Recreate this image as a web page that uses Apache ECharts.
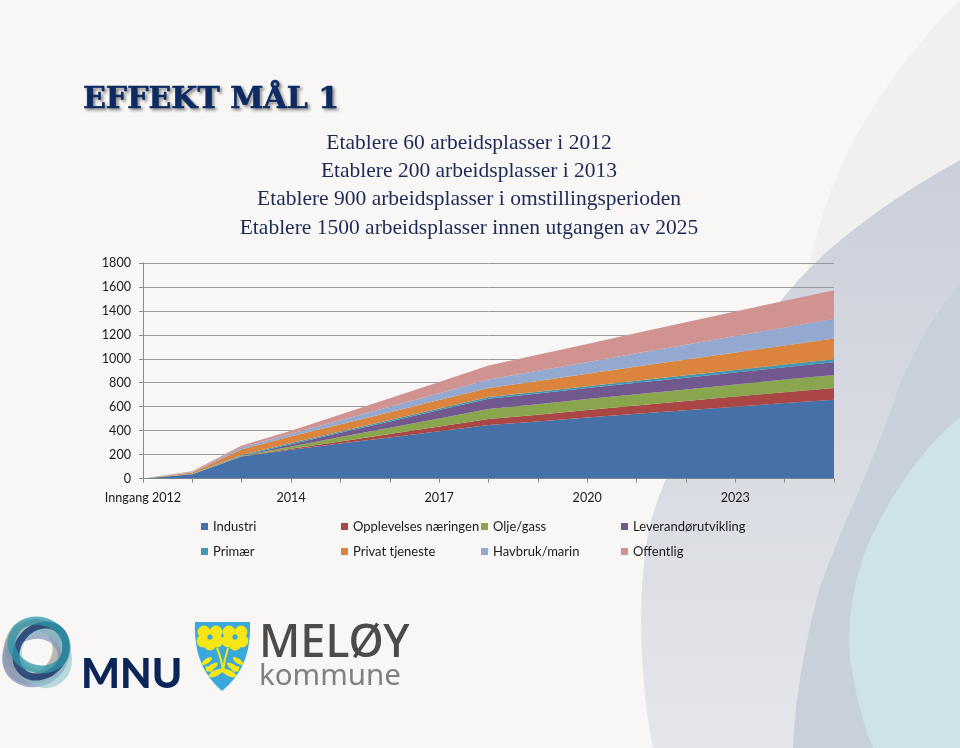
<!DOCTYPE html>
<html><head><meta charset="utf-8">
<style>html,body{margin:0;padding:0;background:#f8f7f6}#c{width:960px;height:748px}</style>
<script src="https://cdn.jsdelivr.net/npm/echarts@6/dist/echarts.min.js"></script>
</head><body><div id="c"></div>
<script>
const categories = ['Inngang 2012','2012','2013','2014','2015','2016','2017','2018','2019','2020','2021','2022','2023','2024','2025'];
const industri = [0,35,184,240,292,343,395,446,476,510,540,570,600,630,658];
const opplevelses = [0,0,1,8,18,29,40,51,57,63,70,77,84,91,98];
const oljeGass = [0,2,5,20,36,52,67,83,87,90,94,97,101,105,109];
const leverandor = [0,0,2,19,36,53,70,87,90,92,95,98,100,103,106];
const primaer = [0,2,6,9,10,11,12,13,15,16,18,20,22,23,25];
const privat = [0,12,47,56,61,66,71,76,90,104,118,132,145,159,173];
const havbruk = [0,3,17,22,34,46,58,70,84,97,111,124,138,151,165];
const offentlig = [0,6,14,25,48,71,94,117,135,152,170,187,204,222,239];
const seriesNames = ['Industri','Opplevelses næringen','Olje/gass','Leverandørutvikling','Primær','Privat tjeneste','Havbruk/marin','Offentlig'];
const seriesValues = [industri,opplevelses,oljeGass,leverandor,primaer,privat,havbruk,offentlig];
const colors = ['#4571a8','#aa4643','#89a54e','#71588f','#4198af','#db843d','#93a9cf','#d19392'];
const titleText = 'EFFEKT MÅL 1';
const subtitleLines = ['Etablere 60 arbeidsplasser i 2012','Etablere 200 arbeidsplasser i 2013','Etablere 900 arbeidsplasser i omstillingsperioden','Etablere 1500 arbeidsplasser innen utgangen av 2025'];

const legendX = [201,341,481,621], legendY = [520,545];
const legends = seriesNames.map((n,i)=>({
  show:true, data:[n], left:legendX[i%4], top:legendY[Math.floor(i/4)], padding:0,
  itemWidth:7, itemHeight:7, icon:'rect', selectedMode:false,
  textStyle:{fontFamily:'Lato',fontSize:13,color:'#1a1a1a'}
}));

let shapeId = 0;
const pathShape = d => { const name='deco'+(shapeId++); echarts.graphic.registerShape(name, echarts.graphic.extendPath(d,{}) ); return name; };
const subY = [143,171,199,228];
const bg = (d,fill)=>({type:pathShape(d),z:-10,silent:true,style:{fill}});
const ring = (rx,ry,rot,stroke,op,w,cx,cy)=>({type:'ellipse',z:5,silent:true,x:cx||37,y:cy||652,rotation:rot*Math.PI/180,
  shape:{cx:0,cy:0,rx,ry},style:{fill:'transparent',stroke,lineWidth:w,opacity:op}});
const leaf = (x,y,rx,ry,rot,fill)=>({type:'ellipse',z:5,silent:true,x,y,rotation:rot*Math.PI/180,shape:{cx:0,cy:0,rx,ry},style:{fill}});
const flower=(cx,cy)=>{
  const out=[];
  [[-6,-5],[6,-5],[-7,4],[7,4],[0,7]].forEach(p=>out.push({type:'circle',z:5,silent:true,shape:{cx:cx+p[0],cy:cy+p[1],r:6.4},style:{fill:'#f6e614'}}));
  out.push({type:'circle',z:5,silent:true,shape:{cx,cy,r:2.6},style:{fill:'#3aa8dc'}});
  return out;
};
const graphicEls = [
  bg('M960 0 C905 55 850 130 826 205 C818 230 812 250 808 270 L960 270 Z','#f1f0ee'),
  {type:pathShape('M960 160 C880 205 820 250 780 302 C720 375 670 450 650 525 C636 590 640 680 653 748 L960 748 Z'),z:-9,silent:true,
    style:{fill:{type:'linear',x:0,y:0,x2:0,y2:1,colorStops:[{offset:0,color:'#cbcfd9'},{offset:.5,color:'#d9dbe3'},{offset:1,color:'#e4e6ea'}]}}},
  {...bg('M960 283 C930 320 905 365 893 404 C870 470 840 530 820 587 C805 640 795 700 793 748 L960 748 Z','#c8d1da'),z:-8},
  {...bg('M960 417 C925 445 890 495 867 547 C850 590 846 640 852 670 C857 700 865 730 873 748 L960 748 Z','#cde3e7'),z:-7},
  {type:'text',z:6,silent:true,x:83,y:85,style:{text:titleText,font:'bold 30px "DejaVu Serif"',fill:'#0d2a63',stroke:'#0d2a63',lineWidth:0.6,textShadowBlur:3,textShadowColor:'rgba(40,40,40,.5)',textShadowOffsetX:2,textShadowOffsetY:2}},
  ...subtitleLines.map((t,i)=>({type:'text',z:6,silent:true,x:469,y:subY[i],style:{text:t,font:'21.5px "Liberation Serif"',fill:'#1c2a55',textAlign:'center',textVerticalAlign:'middle'}})),
  // MNU logo
  ring(28,24,-30,'#b9b6ad',.7,11,37,650),
  ring(28,24,60,'#8f8d85',.6,11,33,652),
  ring(28,24,15,'#8093b6',.7,10,35,658),
  ring(28,24,-60,'#8cc5cf',.6,10,42,656),
  ring(28,23,50,'#1f3b70',.85,7,41,651),
  ring(28,24,-20,'#2d97a8',.75,8,39,645),
  {type:'text',z:6,silent:true,x:81,y:654,style:{text:'MNU',font:'900 41px "Lato"',fill:'#0b2559'}},
  // Shield
  {type:pathShape('M195 622 L250 622 C251 650 244 673 222 691 C201 673 194 650 195 622 Z'),z:5,silent:true,style:{fill:'#3aa8dc'}},
  ...flower(210,637),...flower(235,637),
  {type:pathShape('M217 648 Q222 660 223 672 M228 648 Q224 660 223 672'),z:5,silent:true,style:{fill:'none',stroke:'#f6e614',lineWidth:2}},
  leaf(212,667,7,2.6,35,'#f6e614'),leaf(207,661,6,2.4,35,'#f6e614'),leaf(233,667,7,2.6,-35,'#f6e614'),leaf(238,661,6,2.4,-35,'#f6e614'),
  leaf(216,673,8,3,25,'#f6e614'),leaf(229,673,8,3,-25,'#f6e614'),leaf(209,669,4,2,-30,'#f6e614'),leaf(236,669,4,2,30,'#f6e614'),
  {type:'text',z:6,silent:true,x:259,y:622,style:{text:'MELØY',font:'500 45px "Noto Sans"',fill:'#4b4b4b'}},
  {type:'text',z:6,silent:true,x:259,y:662,style:{text:'kommune',font:'400 29.5px "Noto Sans"',fill:'#808080'}}
];
const chart = echarts.init(document.getElementById('c'),null,{renderer:'canvas'});
chart.setOption({
  animation:false,
  backgroundColor:'#f8f7f6',
  legend:legends,
  graphic:{elements:graphicEls},
  grid:{left:143,right:126,top:263,height:215.5,containLabel:false},
  xAxis:{type:'category',data:categories,boundaryGap:false,
    axisLine:{lineStyle:{color:'#8c8c8c',width:1}},
    axisTick:{show:true,length:4,interval:0,lineStyle:{color:'#8c8c8c'}},
    axisLabel:{interval:2,margin:13,fontFamily:'Lato',fontSize:12.6,color:'#1a1a1a',hideOverlap:false},
    splitLine:{show:false}},
  yAxis:{type:'value',min:0,max:1800,interval:200,
    axisLine:{show:true,lineStyle:{color:'#8c8c8c',width:1}},
    axisTick:{show:true,length:4,lineStyle:{color:'#8c8c8c'}},
    axisLabel:{margin:12,fontFamily:'Lato',fontSize:12.6,color:'#1a1a1a',formatter:v=>String(v)},
    splitLine:{show:true,lineStyle:{color:'#9a9a9a',width:1}}},
  series:seriesNames.map((n,i)=>({name:n,type:'line',stack:'t',data:seriesValues[i],showSymbol:false,symbol:'none',
    itemStyle:{color:colors[i]},lineStyle:{width:0,color:colors[i]},areaStyle:{color:colors[i],opacity:1},z:2+i}))
});
</script></body></html>
